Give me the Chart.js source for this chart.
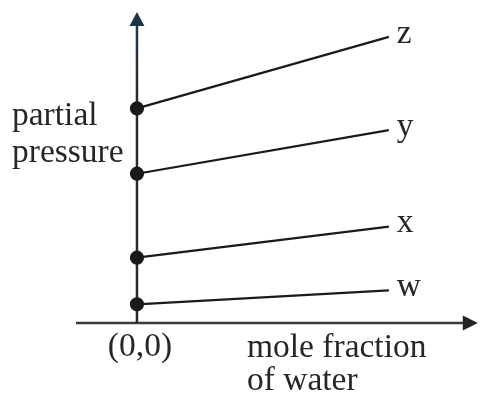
<!DOCTYPE html>
<html>
<head>
<meta charset="utf-8">
<script src="https://cdn.jsdelivr.net/npm/chart.js@4/dist/chart.umd.min.js"></script>
<style>
  html, body { margin: 0; padding: 0; background: #fff; }
  #wrap { width: 486px; height: 401px; }
</style>
</head>
<body>
<div id="wrap"><canvas id="chart" width="486" height="401"></canvas></div>
<script>
// mole fraction of water at the two ends of each line
const fractions = [0, 1];
const seriesNames = ["w", "x", "y", "z"];
const wValues = [6, 10.5];
const xValues = [21, 31];
const yValues = [48, 62];
const zValues = [69, 92];

const xMin = -0.242, xMax = 1.353;
const yMin = 0, yMax = 100;

const ink = "#262626";
const font = "'Liberation Serif', 'Times New Roman', serif";

function toPoints(vals) {
    return vals.map((v, i) => ({ x: fractions[i], y: v }));
}

function makeSet(name, vals) {
    return {
        label: name,
        data: toPoints(vals),
        borderColor: "#1a1a1a",
        borderWidth: 2.2,
        backgroundColor: "#1a1a1a",
        pointRadius: c => c.dataIndex === 0 ? 6 : 0,
        pointHoverRadius: 0,
        tension: 0,
        clip: false
    };
}

const axesPlugin = {
    id: "axes",
    beforeDatasetsDraw(chart) {
        const c = chart.ctx, a = chart.chartArea;
        const x0 = chart.scales.x.getPixelForValue(0);
        const y0 = chart.scales.y.getPixelForValue(0);
        c.save();
        // x axis
        c.strokeStyle = "#3a3a3a";
        c.lineWidth = 2.5;
        c.beginPath();
        c.moveTo(a.left, y0);
        c.lineTo(a.right - 10, y0);
        c.stroke();
        c.fillStyle = "#222";
        c.beginPath();
        c.moveTo(a.right, y0);
        c.lineTo(a.right - 15, y0 - 7.5);
        c.lineTo(a.right - 15, y0 + 7.5);
        c.closePath();
        c.fill();
        // y axis
        const grad = c.createLinearGradient(0, a.top, 0, y0);
        grad.addColorStop(0, "#1f3a50");
        grad.addColorStop(0.3, "#2a2a2a");
        grad.addColorStop(1, "#2a2a2a");
        c.strokeStyle = grad;
        c.beginPath();
        c.moveTo(x0, y0);
        c.lineTo(x0, a.top + 10);
        c.stroke();
        c.fillStyle = "#1d3448";
        c.beginPath();
        c.moveTo(x0, a.top);
        c.lineTo(x0 - 7.5, a.top + 14);
        c.lineTo(x0 + 7.5, a.top + 14);
        c.closePath();
        c.fill();
        c.restore();
    },
    afterDatasetsDraw(chart) {
        const c = chart.ctx;
        const x0 = chart.scales.x.getPixelForValue(0);
        const y0 = chart.scales.y.getPixelForValue(0);
        c.save();
        c.fillStyle = ink;
        c.font = "33.5px " + font;
        // series labels next to line ends
        chart.data.datasets.forEach((ds, i) => {
            const pt = chart.getDatasetMeta(i).data[1];
            c.textAlign = "left";
            c.textBaseline = "middle";
            c.fillText(ds.label, pt.x + 8, pt.y - 3);
        });
        c.textBaseline = "alphabetic";
        c.textAlign = "left";
        c.fillText("partial", 12, 125);
        c.fillText("pressure", 12, 162);
        c.textAlign = "center";
        c.fillText("(0,0)", x0 + 3, y0 + 33);
        c.textAlign = "left";
        c.fillText("mole fraction", x0 + 110, y0 + 34);
        c.fillText("of water", x0 + 110, y0 + 67);
        c.restore();
    }
};

new Chart(document.getElementById("chart"), {
    type: "line",
    data: {
        datasets: [
            makeSet(seriesNames[3], zValues),
            makeSet(seriesNames[2], yValues),
            makeSet(seriesNames[1], xValues),
            makeSet(seriesNames[0], wValues)
        ]
    },
    options: {
        responsive: false,
        animation: false,
        events: [],
        layout: { padding: { left: 76, right: 8, top: 12, bottom: 78 } },
        scales: {
            x: { type: "linear", min: xMin, max: xMax, display: false },
            y: { type: "linear", min: yMin, max: yMax, display: false }
        },
        plugins: {
            legend: { display: false },
            tooltip: { enabled: false }
        }
    },
    plugins: [axesPlugin]
});
</script>
</body>
</html>
